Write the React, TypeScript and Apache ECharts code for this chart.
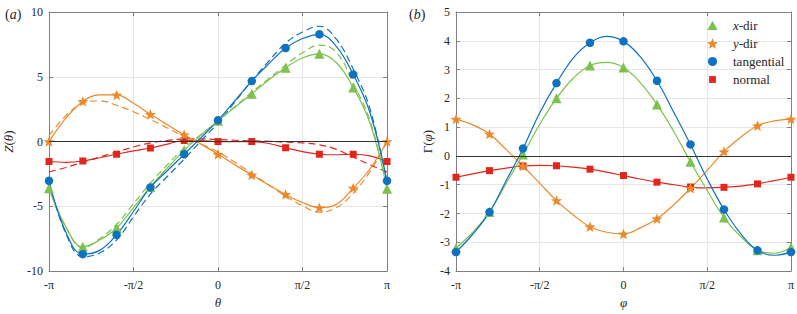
import React, { useEffect, useRef } from "react";
import * as echarts from "echarts";

const PI = Math.PI;
const nodeIdx = [0, 1, 2, 3, 4, 5, 6, 7, 8, 9, 10];
const xTickLabels = ["-π", "-π/2", "0", "π/2", "π"];

// Panel (a): Z(theta) — marker values at theta = -π + kπ/5
const zTangential = [-3.03, -8.69, -7.2, -3.54, -0.98, 1.64, 4.67, 7.22, 8.28, 5.18, -3.03];
const zX = [-3.6, -8.13, -6.67, -3.5, -0.68, 1.6, 3.69, 5.7, 6.77, 4.17, -3.64];
const zY = [0, 3.1, 3.6, 2.1, 0.53, -0.98, -2.58, -4.09, -5.1, -3.59, 0];
const zNormal = [-1.54, -1.5, -0.98, -0.5, 0.08, 0, 0, -0.48, -0.98, -0.98, -1.54];
// solid-curve values read midway between markers
const zTangentialMid = [-7.0, -8.4, -5.4, -2.25, 0.3, 3.15, 6.0, 7.95, 7.35, 2.2];
const zXMid = [-6.6, -7.6, -5.1, -2.05, 0.5, 2.65, 4.75, 6.45, 6.1, 1.4];
const zYMid = [1.8, 3.6, 2.95, 1.3, -0.2, -1.8, -3.35, -4.7, -4.85, -2.1];
const zNormalMid = [-1.6, -1.25, -0.72, -0.2, 0.08, 0.0, -0.15, -0.78, -1.02, -1.1];
// dashed curves (at marker positions, and midway)
const zTangentialD = [-3.2, -8.9, -7.6, -4.05, -1.35, 1.45, 4.7, 7.6, 8.9, 5.6, -3.2];
const zTangentialDMid = [-7.1, -8.6, -5.8, -2.7, 0.05, 3.05, 6.2, 8.45, 7.9, 2.5];
const zXD = [-3.5, -8.2, -6.4, -3.2, -0.5, 1.6, 3.8, 5.9, 7.45, 4.5, -3.5];
const zXDMid = [-6.6, -7.5, -4.8, -1.8, 0.55, 2.7, 4.85, 6.85, 6.9, 1.6];
const zYD = [0.45, 2.95, 2.8, 1.7, 0.4, -0.8, -2.45, -4.2, -5.45, -4.0, 0];
const zYDMid = [2.0, 3.15, 2.3, 1.05, -0.2, -1.6, -3.35, -4.95, -5.1, -2.3];
const zNormalD = [-2.35, -1.6, -0.8, -0.1, 0.2, 0.15, 0.05, -0.05, -0.25, -1.2, -2.35];
const zNormalDMid = [-2.0, -1.2, -0.42, 0.08, 0.2, 0.1, 0.02, -0.1, -0.6, -1.8];

// Panel (b): Gamma(phi)
const gTangential = [-3.34, -1.95, 0.26, 2.53, 3.93, 3.98, 2.61, 0.4, -1.86, -3.28, -3.34];
const gX = [-3.2, -1.95, 0.05, 2.0, 3.14, 3.07, 1.79, -0.2, -2.14, -3.28, -3.17];
const gY = [1.28, 0.76, -0.35, -1.55, -2.46, -2.71, -2.18, -1.12, 0.15, 1.05, 1.28];
const gNormal = [-0.74, -0.51, -0.35, -0.34, -0.46, -0.68, -0.91, -1.08, -1.09, -0.97, -0.74];
const gTangentialMid = [-2.72, -0.85, 1.5, 3.4, 4.15, 3.45, 1.52, -0.8, -2.7, -3.45];
const gXMid = [-2.65, -0.95, 1.1, 2.7, 3.25, 2.55, 0.85, -1.2, -2.8, -3.38];
const gYMid = [1.08, 0.22, -0.95, -2.05, -2.65, -2.5, -1.7, -0.5, 0.65, 1.22];
const gNormalMid = [-0.62, -0.42, -0.33, -0.39, -0.56, -0.8, -1.0, -1.11, -1.05, -0.86];

const C_BLUE = "#0F72C0";
const C_GREEN = "#7DC24D";
const C_ORANGE = "#EC8A2B";
const C_RED = "#E2261C";
const STAR =
  "path://M0,-10 L2.6,-3.4 L9.51,-3.09 L4.1,1.3 L5.88,8.09 L0,4.2 L-5.88,8.09 L-4.1,1.3 L-9.51,-3.09 L-2.6,-3.4 Z";
// legend icons padded inside an 11x11 box so they keep the marker proportions
const LEG_CIRCLE = "path://M-5.5,-5.5 M5.5,5.5 M-4.6,0 A4.6,4.6 0 1 0 4.6,0 A4.6,4.6 0 1 0 -4.6,0 Z";
const LEG_SQUARE = "path://M-5.5,-5.5 M5.5,5.5 M-3.4,-3.4 L3.4,-3.4 L3.4,3.4 L-3.4,3.4 Z";
const LEG_TRIANGLE = "path://M-5.5,-5.5 M5.5,5.5 M0,-4.8 L5.2,4.4 L-5.2,4.4 Z";
const FONT = "'Liberation Serif', 'DejaVu Serif', 'Times New Roman', serif";

function xAt(k: number) {
  return -PI + (k * PI) / 5;
}

function markerPts(vals: number[]) {
  return nodeIdx.map((i) => [xAt(i), vals[i]]);
}

function curvePts(vals: number[], mids: number[]) {
  const out: number[][] = [];
  nodeIdx.forEach((i) => {
    out.push([xAt(i), vals[i]]);
    if (i < mids.length) out.push([xAt(i + 0.5), mids[i]]);
  });
  return out;
}

function curve(vals: number[], mids: number[], color: string, gi: number, isDashed: boolean) {
  return {
    type: "line",
    name: "curve",
    xAxisIndex: gi * 2,
    yAxisIndex: gi * 2,
    data: curvePts(vals, mids),
    smooth: 0.4,
    showSymbol: false,
    symbol: "none",
    silent: true,
    itemStyle: { color },
    lineStyle: { color, width: 1.2, type: isDashed ? [7, 4] : "solid" },
    z: isDashed ? 2 : 3,
  };
}

function markers(name: string, vals: number[], color: string, symbol: string, size: number, gi: number) {
  return {
    type: "scatter",
    name,
    xAxisIndex: gi * 2,
    yAxisIndex: gi * 2,
    data: markerPts(vals),
    symbol,
    symbolSize: size,
    symbolKeepAspect: true,
    itemStyle: { color, opacity: 1 },
    z: 4,
  };
}

function zeroLine(gi: number) {
  return {
    type: "line",
    name: "zero" + gi,
    xAxisIndex: gi * 2,
    yAxisIndex: gi * 2,
    data: [],
    silent: true,
    markLine: {
      silent: true,
      symbol: ["none", "none"],
      label: { show: false },
      lineStyle: { color: "#333", type: "solid", width: 1 },
      data: [{ yAxis: 0 }],
    },
    z: 1,
  };
}

const AXIS_COLOR = "#808080";
const LABEL_COLOR = "#262626";
const italicRich = (size: number) => ({ i: { fontStyle: "italic", fontFamily: FONT, fontSize: size, color: LABEL_COLOR } });

function xAxes(gi: number) {
  const base = {
    type: "value",
    gridIndex: gi,
    min: -PI,
    max: PI,
    interval: PI / 2,
    axisLine: { show: true, onZero: false, lineStyle: { color: AXIS_COLOR, width: 1 } },
    axisTick: { show: true, inside: true, length: 4, lineStyle: { color: AXIS_COLOR } },
  };
  return [
    {
      ...base,
      position: "bottom",
      name: gi === 0 ? "{i|θ}" : "{i|φ}",
      nameLocation: "middle",
      nameGap: 20,
      nameTextStyle: { fontFamily: FONT, fontSize: 13, color: LABEL_COLOR, rich: italicRich(13) },
      splitLine: { show: true, lineStyle: { color: "#e6e6e6", width: 1 } },
      axisLabel: {
        fontFamily: FONT,
        fontSize: 12,
        color: LABEL_COLOR,
        margin: 8,
        formatter: (v: number) => xTickLabels[Math.round((v + PI) / (PI / 2))] ?? "",
      },
    },
    {
      ...base,
      position: "top",
      splitLine: { show: false },
      axisLabel: { show: false },
    },
  ];
}

function yAxes(gi: number) {
  const range = gi === 0 ? { min: -10, max: 10, interval: 5 } : { min: -4, max: 5, interval: 1 };
  const base = {
    type: "value",
    gridIndex: gi,
    ...range,
    axisLine: { show: true, onZero: false, lineStyle: { color: AXIS_COLOR, width: 1 } },
    axisTick: { show: true, inside: true, length: 4, lineStyle: { color: AXIS_COLOR } },
  };
  return [
    {
      ...base,
      position: "left",
      name: gi === 0 ? "{i|Z}({i|θ})" : "Γ({i|φ})",
      nameLocation: "middle",
      nameRotate: 90,
      nameGap: gi === 0 ? 34 : 22,
      nameTextStyle: { fontFamily: FONT, fontSize: 13, color: LABEL_COLOR, rich: italicRich(13) },
      splitLine: { show: true, lineStyle: { color: "#e6e6e6", width: 1 } },
      axisLabel: { fontFamily: FONT, fontSize: 12, color: LABEL_COLOR, margin: 6 },
    },
    {
      ...base,
      position: "right",
      splitLine: { show: false },
      axisLabel: { show: false },
    },
  ];
}

export default function App() {
  const ref = useRef<HTMLDivElement>(null);
  useEffect(() => {
    if (!ref.current) return;
    const chart = echarts.init(ref.current, undefined, { renderer: "svg" });
    const titleStyle = { fontFamily: FONT, fontSize: 14, fontWeight: "normal", color: LABEL_COLOR, rich: italicRich(14) };
    const option = {
      animation: false,
      backgroundColor: "#ffffff",
      textStyle: { fontFamily: FONT },
      title: [
        { text: "({i|a})", left: 0, top: 2, textStyle: titleStyle },
        { text: "({i|b})", left: 404, top: 2, textStyle: titleStyle },
      ],
      legend: {
        orient: "vertical",
        left: 702,
        top: 14,
        itemGap: 5,
        itemWidth: 11,
        itemHeight: 11,
        data: [
          { name: "x-dir", icon: LEG_TRIANGLE },
          { name: "y-dir", icon: STAR },
          { name: "tangential", icon: LEG_CIRCLE },
          { name: "normal", icon: LEG_SQUARE },
        ],
        formatter: (n: string) => (n === "x-dir" ? "{i|x}-dir" : n === "y-dir" ? "{i|y}-dir" : n),
        textStyle: {
          fontFamily: FONT,
          fontSize: 13,
          color: LABEL_COLOR,
          padding: [0, 0, 0, 10],
          rich: italicRich(13),
        },
      },
      grid: [
        { left: 49, right: 410, top: 12, bottom: 38 },
        { left: 456, right: 6, top: 12, bottom: 38 },
      ],
      xAxis: [...xAxes(0), ...xAxes(1)],
      yAxis: [...yAxes(0), ...yAxes(1)],
      series: [
        zeroLine(0),
        zeroLine(1),
        curve(zTangentialD, zTangentialDMid, C_BLUE, 0, true),
        curve(zXD, zXDMid, C_GREEN, 0, true),
        curve(zYD, zYDMid, C_ORANGE, 0, true),
        curve(zNormalD, zNormalDMid, C_RED, 0, true),
        curve(zNormal, zNormalMid, C_RED, 0, false),
        curve(zY, zYMid, C_ORANGE, 0, false),
        curve(zX, zXMid, C_GREEN, 0, false),
        curve(zTangential, zTangentialMid, C_BLUE, 0, false),
        curve(gNormal, gNormalMid, C_RED, 1, false),
        curve(gY, gYMid, C_ORANGE, 1, false),
        curve(gX, gXMid, C_GREEN, 1, false),
        curve(gTangential, gTangentialMid, C_BLUE, 1, false),
        markers("normal", zNormal, C_RED, "rect", 7, 0),
        markers("y-dir", zY, C_ORANGE, STAR, 11, 0),
        markers("x-dir", zX, C_GREEN, "triangle", 10, 0),
        markers("tangential", zTangential, C_BLUE, "circle", 8.5, 0),
        markers("normal", gNormal, C_RED, "rect", 7, 1),
        markers("y-dir", gY, C_ORANGE, STAR, 11, 1),
        markers("x-dir", gX, C_GREEN, "triangle", 10, 1),
        markers("tangential", gTangential, C_BLUE, "circle", 8.5, 1),
      ],
    };
    chart.setOption(option as any);
    return () => chart.dispose();
  }, []);
  return (
    <div
      ref={ref}
      style={{ position: "absolute", left: 0, top: 0, width: 797, height: 314 }}
    />
  );
}
